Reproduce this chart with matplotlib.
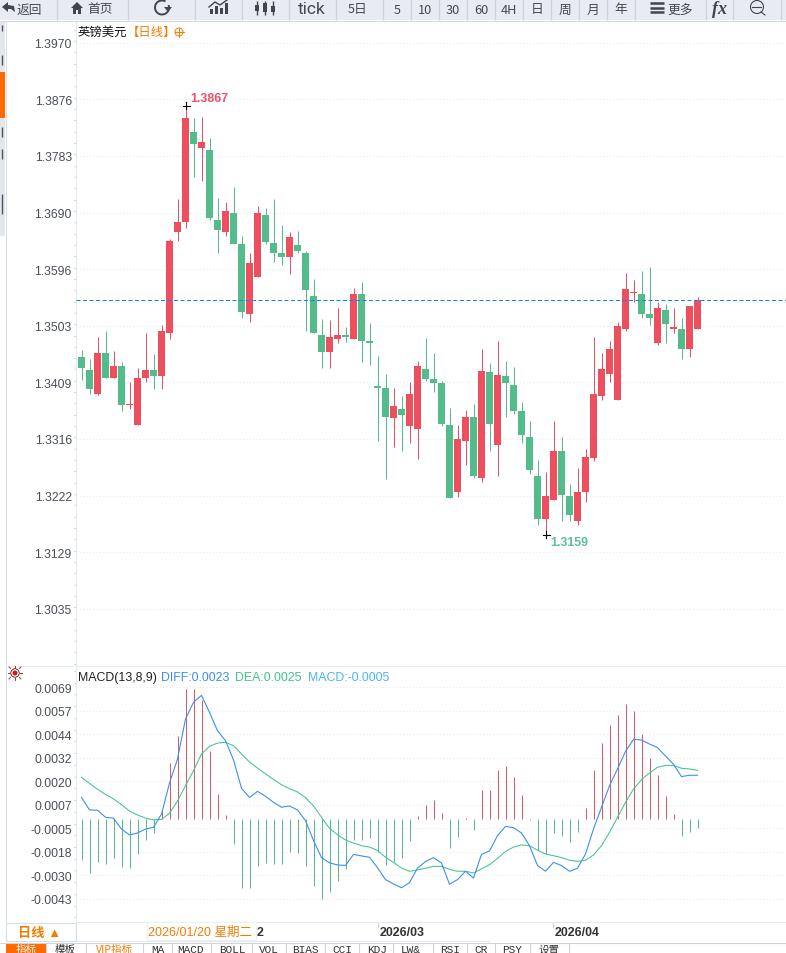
import matplotlib
matplotlib.use('Agg')
import matplotlib.pyplot as plt
import numpy as np
from matplotlib.patches import Rectangle, Polygon, Circle, Arc

plt.rcParams['font.family'] = ['Liberation Sans', 'Noto Sans CJK SC', 'DejaVu Sans']

opens = [1.34520,1.34305,1.33909,1.34586,1.34173,1.34355,1.33727,1.33381,1.34157,1.34305,
         1.34206,1.34916,1.36584,1.36733,1.38235,1.37955,1.37922,1.36766,1.36584,1.36882,
         1.36370,1.35214,1.35841,1.36849,1.36386,1.36221,1.36171,1.36353,1.36221,1.35511,
         1.34883,1.34602,1.34801,1.34883,1.34801,1.35544,1.34784,1.34041,1.34008,1.33497,
         1.33645,1.33365,1.33315,1.34306,1.34141,1.34075,1.33381,1.32291,1.33117,1.33513,
         1.32522,1.34256,1.33067,1.34190,1.34042,1.33612,1.33183,1.32555,1.31845,1.32143,
         1.32952,1.32209,1.31812,1.32291,1.32836,1.33876,1.34223,1.33794,1.34966,1.35561,
         1.35544,1.35214,1.34735,1.35296,1.34966,1.34966,1.34636,1.34966]
highs = [1.34635,1.34487,1.34850,1.34933,1.34619,1.34437,1.34107,1.34338,1.34900,1.34569,
         1.35048,1.36452,1.37113,1.38670,1.38450,1.38467,1.38120,1.37129,1.37063,1.37311,
         1.36518,1.36221,1.36997,1.36964,1.37113,1.36699,1.36584,1.36600,1.36270,1.35808,
         1.35147,1.35131,1.35329,1.34999,1.35643,1.35742,1.35065,1.34536,1.34239,1.34008,
         1.33860,1.34091,1.34454,1.34818,1.34570,1.34108,1.33678,1.33381,1.33629,1.33728,
         1.34652,1.34405,1.34768,1.34438,1.34339,1.33761,1.33447,1.32803,1.32621,1.33447,
         1.33183,1.32407,1.32671,1.32985,1.34834,1.34570,1.34768,1.35082,1.35891,1.35775,
         1.35940,1.35990,1.35428,1.35379,1.35329,1.35164,1.35362,1.35495]
lows = [1.34140,1.33909,1.33892,1.34173,1.34173,1.33612,1.33645,1.33381,1.34091,1.33991,
        1.33991,1.34801,1.36419,1.36634,1.37492,1.37410,1.36782,1.36221,1.36502,1.36370,
        1.35164,1.35082,1.35841,1.36370,1.36088,1.36039,1.35890,1.36237,1.34949,1.34900,
        1.34322,1.34338,1.34751,1.34767,1.34801,1.34437,1.34388,1.33133,1.32505,1.33018,
        1.32968,1.33100,1.32820,1.34108,1.33926,1.33365,1.32176,1.32192,1.32721,1.32506,
        1.32440,1.32968,1.32555,1.33513,1.33563,1.33084,1.32588,1.31730,1.31590,1.32143,
        1.31796,1.31796,1.31746,1.32110,1.32787,1.33794,1.34091,1.33794,1.34933,1.35428,
        1.35148,1.35032,1.34718,1.34735,1.34900,1.34471,1.34520,1.34966]
closes = [1.34322,1.33991,1.34586,1.34173,1.34355,1.33727,1.33744,1.34157,1.34305,1.34206,
          1.34949,1.36435,1.36733,1.38450,1.38021,1.38054,1.36815,1.36601,1.36915,1.36370,
          1.35247,1.36072,1.36882,1.36403,1.36237,1.36171,1.36501,1.36254,1.35610,1.34916,
          1.34602,1.34850,1.34883,1.34834,1.35560,1.34784,1.34751,1.34008,1.33529,1.33695,
          1.33546,1.33909,1.34355,1.34141,1.34075,1.33398,1.32176,1.33166,1.33513,1.32539,
          1.34273,1.33398,1.34207,1.34075,1.33612,1.33232,1.32654,1.31829,1.32209,1.32952,
          1.32225,1.31895,1.32291,1.32853,1.33893,1.34306,1.34652,1.35016,1.35627,1.35577,
          1.35230,1.35164,1.35313,1.35049,1.34999,1.34636,1.35346,1.35445]
last_price = 1.3545

# macd series, in units of 0.0001
diff = [11.4,4.8,4.6,0.9,0.4,-5.3,-8.4,-7.4,-5.3,-4.4,2.6,19.0,31.7,52.8,61.6,65.3,56.3,46.6,41.4,31.2,
        16.2,11.4,14.6,12.0,8.8,6.2,6.9,4.8,-0.9,-11.4,-20.4,-23.1,-24.3,-24.5,-18.7,-19.5,-20.2,-25.7,-32.0,-34.3,
        -36.3,-33.6,-25.9,-22.5,-20.4,-23.2,-34.5,-32.0,-27.6,-31.2,-18.7,-16.9,-8.8,-3.9,-4.6,-7.4,-14.1,-24.5,-27.6,-22.9,
        -24.6,-27.6,-26.0,-18.5,-5.3,6.2,17.6,26.4,35.7,42.1,41.7,39.6,37.7,33.3,28.9,22.4,23.1,23.1]
dea = [22.0,18.8,15.7,13.0,10.6,7.6,4.2,2.1,0.5,-0.5,-0.2,3.0,9.5,17.6,25.5,34.3,38.4,40.1,40.5,38.7,
       34.3,30.1,26.9,23.8,20.9,18.1,16.0,14.3,11.3,6.9,0.9,-4.9,-8.3,-11.1,-12.7,-14.1,-14.8,-16.7,-20.2,-22.9,
       -25.9,-27.6,-26.9,-26.0,-25.0,-25.0,-26.6,-27.6,-27.6,-28.5,-26.4,-24.1,-20.8,-17.2,-14.8,-13.7,-14.1,-16.4,-18.5,-19.4,
       -20.4,-21.8,-22.4,-21.8,-19.0,-14.1,-7.0,0.9,8.8,15.8,20.8,24.3,27.3,28.3,28.3,26.8,26.4,25.7]
hist = [-21.6,-28.5,-22.7,-23.8,-20.6,-25.3,-25.9,-18.5,-11.1,-7.4,4.9,29.6,43.8,68.6,68.6,62.8,35.9,13.2,2.1,-13.2,
        -36.4,-36.4,-24.8,-23.2,-23.8,-23.8,-17.4,-18.0,-24.8,-35.4,-42.2,-38.5,-32.7,-26.4,-11.1,-11.1,-10.0,-17.4,-24.3,-22.7,
        -20.6,-11.6,1.6,7.4,10.0,3.2,-15.3,-9.5,0.5,-5.8,15.3,15.3,25.9,28.0,22.2,12.7,-0.5,-16.9,-18.5,-7.4,
        -9.0,-12.1,-6.9,5.8,25.9,40.1,49.6,54.9,60.7,57.0,44.9,32.2,23.2,12.1,2.6,-9.0,-6.9,-4.8]

price_ticks = [1.3970,1.38765,1.37831,1.36896,1.35962,1.35027,1.34092,1.33158,1.32223,1.31289,1.30354]
price_labels = ['1.3970','1.3876','1.3783','1.3690','1.3596','1.3503','1.3409','1.3316','1.3222','1.3129','1.3035']
macd_ticks = [69.5,57.2,44.7,32.3,19.9,7.6,-4.8,-17.2,-29.6,-42.0]
macd_labels = ['0.0069','0.0057','0.0044','0.0032','0.0020','0.0007','-0.0005','-0.0018','-0.0030','-0.0043']

tool_seps = [57,128,195,242,289,336,383,411,439,467,495,523,551,579,607,635,706,733,781]
tool_texts = [('返回',29),('首页',100),('5日',358),('5',397),('10',425),('30',453),('60',481),
              ('4H',509),('日',537),('周',565),('月',593),('年',621),('更多',680)]
tab_names = [('模板',65),('VIP指标',114),('MA',158),('MACD',191),('BOLL',232),('VOL',269),('BIAS',305),
             ('CCI',342),('KDJ',377),('LW&',411),('RSI',450),('CR',481),('PSY',512),('设置',549)]
tab_seps = [46,86,143,172,211,252,286,325,359,393,433,467,495,530,569]

RED = '#ee4f5f'
GREEN = '#54bb8a'
TICK = '#4a4f57'
ORANGE = '#f57c00'
GRID = '#ebeced'
W, H = 786, 954

x = np.arange(len(opens))
opens, highs, lows, closes = map(np.array, (opens, highs, lows, closes))
cols = [RED if c >= o else GREEN for o, c in zip(opens, closes)]

fig = plt.figure(figsize=(W/100, H/100), dpi=100)
ax = fig.add_axes([76/W, 1-666.5/H, 710/W, 645/H])
ax2 = fig.add_axes([76/W, 1-923/H, 710/W, 256/H])
xlim = ((76-81.5)/8, (786-81.5)/8)

# candles
wicks = ax.vlines(x, lows, highs, colors=cols, lw=0.72, zorder=2)
wicks.set_snap(True)
ax.bar(x, np.abs(closes-opens), bottom=np.minimum(opens, closes), width=7/8, color=cols, zorder=3, linewidth=0)
ax.axhline(last_price, color='#0a84ff', lw=0.72, ls=(0, (4, 2.5)), zorder=4)
ax.set_xlim(xlim)
ax.set_ylim(1.29418, 1.40068)
ax.set_yticks(price_ticks)
ax.set_yticklabels(price_labels)
ax.set_yticks(np.arange(1.29418 + 0.00028, 1.40068, 0.009346/5), minor=True)

# macd
hcols = ['#e25563' if v >= 0 else '#5cb58d' for v in hist]
bars = ax2.vlines(x, 0, hist, colors=hcols, lw=0.72, zorder=2)
bars.set_snap(True)
ax2.plot(x, dea, color='#41c48d', lw=0.75, zorder=3)
ax2.plot(x, diff, color='#3a90f2', lw=0.8, zorder=4)
ax2.set_xlim(xlim)
ax2.set_ylim(-54.4, 80.8)
ax2.set_yticks(macd_ticks)
ax2.set_yticklabels(macd_labels)
ax2.set_yticks(np.arange(-52.0, 80.8, 2.48*5/2), minor=True)

for a in (ax, ax2):
    a.set_xticks([])
    a.tick_params(axis='y', length=0, pad=3, labelsize=8.8, labelcolor=TICK)
    a.tick_params(axis='y', which='minor', length=1.2, width=0.7, color='#c9ced4')
    a.grid(axis='y', color=GRID, lw=0.8, ls=(0, (1, 2)), zorder=0)
    a.set_axisbelow(True)
    for s in ('top', 'right'):
        a.spines[s].set_visible(False)
    a.spines['left'].set_color('#e3ebf2')
    a.spines['bottom'].set_color('#e3ebf2')

# page furniture, in pixel coordinates
ch = fig.add_axes([0, 0, 1, 1], zorder=10)
ch.set_xlim(0, W)
ch.set_ylim(H, 0)
ch.axis('off')
ch.patch.set_alpha(0)

ch.add_patch(Rectangle((0, 0), W, 21, color='#e9ebf2', lw=0))
ch.hlines(21.5, 0, W, color='#d5d7de', lw=0.8)
ch.vlines(tool_seps, 0, 21, color='#cfd2d9', lw=1)
for t, px in tool_texts:
    ch.text(px, 10, t, ha='center', va='center', fontsize=9.2, color='#44484f',
            family=['Noto Sans CJK SC', 'DejaVu Sans'])
ch.text(312, 9, 'tick', ha='center', va='center', fontsize=12.5, color='#44484f', family=['Roboto'])

# toolbar icons
ic = '#3f4650'
ch.add_patch(Polygon([[2, 8], [8, 3], [8, 6], [14, 7], [15, 13], [11, 10], [8, 10], [8, 13]], color=ic, lw=0))
ch.add_patch(Polygon([[71, 9], [77, 3], [83, 9], [81, 9], [81, 15], [78, 15], [78, 11], [76, 11], [76, 15], [73, 15], [73, 9]], color=ic, lw=0))
ch.add_patch(Arc((162, 8.5), 14, 14, theta1=-20, theta2=300, color=ic, lw=1.4))
ch.add_patch(Polygon([[164, 8], [172, 8], [168, 13]], color=ic, lw=0))
ch.bar([211, 216, 221, 226], [5, 8, 6, 11], bottom=[10, 7, 9, 4], width=3, color=ic)
ch.plot([209, 215, 220, 227], [8, 3, 6, 1], color=ic, lw=1)
ch.vlines([257, 265, 273], 2, 16, color=ic, lw=1)
ch.bar([257, 265, 273], [6, 9, 6], bottom=[6, 4, 7], width=3.5, color=ic)
ch.hlines([4, 8.5, 13], 650, 664, color=ic, lw=1.8)
ch.text(720, 9, 'fx', ha='center', va='center', fontsize=13, fontstyle='italic', fontweight='bold',
        color=ic, family=['Liberation Serif'])
ch.add_patch(Circle((757, 8), 6.5, fill=False, ec=ic, lw=0.8))
ch.plot([752, 756, 761], [8, 8, 8], color=ic, lw=0.8)
ch.plot([761, 765], [13, 16], color=ic, lw=0.8)

# left strip
ch.add_patch(Rectangle((0, 22), 5, 215, color='#e4e6ed', lw=0))
ch.add_patch(Rectangle((0, 73), 5, 46, color='#ff6a00', lw=0))
ch.vlines(5.5, 22, 941, color='#d9dfe6', lw=0.8)
ch.vlines([2, 2, 2, 2, 2], [26, 56, 128, 150, 195], [32, 66, 138, 160, 215], color='#50545c', lw=1)

# titles
ch.text(78, 33, '英镑美元', fontsize=8.9, va='center', color='#111111')
ch.text(127, 33, '【日线】', fontsize=8.9, va='center', color=ORANGE)
ch.add_patch(Circle((179, 33), 4, fill=False, ec=ORANGE, lw=0.7))
ch.plot([174.5, 183.5], [33, 33], color=ORANGE, lw=0.7)
ch.plot([179, 179], [28.5, 37.5], color=ORANGE, lw=0.7)

ch.text(190, 99, '1.3867', fontsize=8.9, fontweight='bold', va='center', color='#f0506a')
ch.text(550, 543, '1.3159', fontsize=8.9, fontweight='bold', va='center', color='#5cc09a')
ch.plot([182.5, 189.5], [106.5, 106.5], color='k', lw=0.8)
ch.plot([186, 186], [103, 110], color='k', lw=0.8)
ch.plot([542.5, 549.5], [535.5, 535.5], color='k', lw=0.8)
ch.plot([546, 546], [532, 539], color='k', lw=0.8)

# macd header
ch.hlines(666.5, 6, W, color='#e6eef2', lw=0.8)
ch.add_patch(Circle((15, 674), 2.5, color='#d01818', lw=0))
ch.add_patch(Circle((15, 674), 4.2, fill=False, ec='#222222', lw=0.6))
for dx, dy in [(-6, 0), (6, 0), (0, -6), (0, 6), (-5, -5), (5, 5), (-5, 5), (5, -5)]:
    ch.plot([15+dx*0.9, 15+dx*1.2], [674+dy*0.9, 674+dy*1.2], color='#e02020', lw=0.7)
ch.text(78, 678, 'MACD(13,8,9)', fontsize=8.9, va='center', color='#222222')
ch.text(161, 678, 'DIFF:0.0023', fontsize=8.9, va='center', color='#3a90f2')
ch.text(235, 678, 'DEA:0.0025', fontsize=8.9, va='center', color='#41c48d')
ch.text(308, 678, 'MACD:-0.0005', fontsize=8.9, va='center', color='#4ab8ee')

# date row
ch.add_patch(Rectangle((6, 924), 70, 18, fc='white', ec='#d5dde5', lw=0.8))
ch.add_patch(Rectangle((147, 923), 109, 18, fc='white', ec='#eef0f2', lw=0.8))
ch.text(40, 934, '日线 ▲', ha='center', va='center', fontsize=9.5, fontweight='bold', color=ORANGE)
ch.text(148, 933, '2026/01/20 星期二', fontsize=9, va='center', color=ORANGE)
ch.text(257, 933, '2', fontsize=8.9, fontweight='bold', va='center', color='#333333')
ch.text(380, 933, '2026/03', fontsize=8.9, fontweight='bold', va='center', color='#333333')
ch.text(555, 933, '2026/04', fontsize=8.9, fontweight='bold', va='center', color='#333333')
ch.vlines([378, 553], 924, 928, color='#c8cdd3', lw=0.8)
ch.hlines(941.5, 76, 489, color='#e3e8ed', lw=0.8)

# bottom tabs, low on the page like the reference
ch.hlines(943.5, 0, W, color='#cfd4da', lw=0.8)
ch.add_patch(Rectangle((6, 944), 40, 10, color='#ff6a00', lw=0))
ch.text(26, 950, '指标', ha='center', va='center', fontsize=7.6, color='white')
ch.vlines(tab_seps, 944, 954, color='#cfd4da', lw=0.8)
for t, px in tab_names:
    cjk = t in ('模板', 'VIP指标', '设置')
    ch.text(px, 950, t, ha='center', va='center', fontsize=8 if not cjk else 7.6,
            color=ORANGE if t == 'VIP指标' else '#333333',
            family=['Liberation Mono', 'Noto Sans CJK SC'] if not cjk else ['Noto Sans CJK SC'])

fig.savefig('out.png', dpi=100)
